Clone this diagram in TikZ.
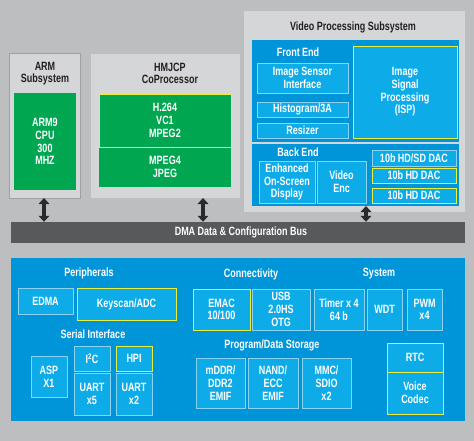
\documentclass[tikz,border=0pt]{standalone}
\usepackage{fontspec}
\setmainfont{Liberation Sans}[FakeStretch=0.75]
\usetikzlibrary{arrows.meta}
\definecolor{bgc}{HTML}{BDBEC0}
\definecolor{lbox}{HTML}{D5D6D8}
\definecolor{armb}{HTML}{A0A1A3}
\definecolor{grn}{HTML}{00A650}
\definecolor{bpan}{HTML}{0095D9}
\definecolor{iblue}{HTML}{0DACE8}
\definecolor{ibord}{HTML}{8AD3F2}
\definecolor{yel}{HTML}{E9EE3F}
\definecolor{busc}{HTML}{58595B}
\definecolor{arrc}{HTML}{2A2A2A}
\definecolor{dtext}{HTML}{231F20}
\newcommand\bx[7]{\node[#1, minimum width={#5-#3}, minimum height={#6-#4}] (#2) at ({(#3+#5)/2},{(#4+#6)/2}) {#7};}
\tikzset{
  txt/.style={font=\fontsize{12}{12.7}\selectfont\bfseries, align=center, inner sep=0pt},
  wlbl/.style={txt, text=white},
  dlbl/.style={txt, text=dtext},
  subbox/.style={fill=lbox, inner sep=0pt},
  armbox/.style={subbox, draw=armb, line width=0.8pt},
  panel/.style={fill=bpan, inner sep=0pt},
  gbox/.style={txt, fill=grn, text=white},
  gybox/.style={gbox, draw=yel, line width=0.9pt},
  ibox/.style={txt, fill=iblue, draw=ibord, line width=0.7pt, text=white},
  ybox/.style={ibox, draw=yel, line width=0.9pt},
  busbox/.style={txt, fill=busc, text=white},
  dbl/.style={draw=arrc, line width=3.6pt, {Triangle[length=6pt,width=10.5pt]}-{Triangle[length=6pt,width=10.5pt]}},
}
\begin{document}
\begin{tikzpicture}[x=1pt,y=-1pt]
\fill[bgc] (0,0) rectangle (474,441);
\useasboundingbox (0,0) rectangle (474,441);
% ARM
\bx{armbox}{arm}{9.5}{53}{80}{198}{}
\node[dlbl] (armt) at (45,73.5) {ARM\\Subsystem};
\bx{gbox}{cpu}{14}{93}{76}{190}{ARM9\\CPU\\300\\MHZ}
% HMJCP
\bx{subbox}{hm}{91}{54}{240}{198}{}
\node[dlbl] (hmt) at (170,73.5) {HMJCP\\CoProcessor};
\bx{gbox}{mp4}{99}{147}{231}{187}{MPEG4\\JPEG}
\bx{gybox}{h264}{99}{94}{231}{147}{H.264\\VC1\\MPEG2}
% Video processing subsystem
\bx{subbox}{vps}{244}{11}{465}{212}{}
\node[dlbl] (vpst) at (353,27) {Video Processing Subsystem};
\bx{panel}{fe}{252}{40}{459}{142}{}
\node[wlbl] (fet) at (298,52) {Front End};
\bx{ibox}{isi}{257}{63}{348}{93}{Image Sensor\\Interface}
\bx{ibox}{hist}{257}{102}{348}{117}{Histogram/3A}
\bx{ibox}{rsz}{257}{123}{348}{138}{Resizer}
\bx{ybox}{isp}{353}{46}{457}{138}{Image\\Signal\\Processing\\(ISP)}
\bx{panel}{be}{252}{144}{459}{206}{}
\node[wlbl] (bet) at (298,152) {Back End};
\bx{ibox}{osd}{259}{161}{315}{203}{Enhanced\\On-Screen\\Display}
\bx{ibox}{venc}{317}{161}{366}{203}{Video\\Enc}
\bx{ibox}{dac1}{372}{150}{456}{166}{10b HD/SD DAC}
\bx{ybox}{dac2}{372}{168}{456}{183}{10b HD DAC}
\bx{ybox}{dac3}{372}{188}{456}{203}{10b HD DAC}
% Bus
\bx{busbox}{bus}{11}{222}{465}{243}{}
\node[wlbl] (bust) at (241,232.5) {DMA Data \& Configuration Bus};
\draw[dbl] (44,198) coordinate (a1) -- (a1 |- bus.north);
\draw[dbl] (203,198) coordinate (a2) -- (a2 |- bus.north);
\draw[dbl] (366,206) coordinate (a3) -- (a3 |- bus.north);
% Lower panel
\bx{panel}{low}{11}{258}{465}{421}{}
\node[wlbl] (perit) at (89,273) {Peripherals};
\bx{ibox}{edma}{18}{288}{73}{314}{EDMA}
\bx{ybox}{key}{77}{288}{176}{320}{Keyscan/ADC}
\node[wlbl] (sert) at (93,334) {Serial Interface};
\bx{ibox}{asp}{31}{356}{67}{397}{ASP\\X1}
\bx{ibox}{i2c}{74}{346}{110}{371}{I\textsuperscript{2}C}
\bx{ibox}{u5}{74}{373}{110}{415}{UART\\x5}
\bx{ybox}{hpi}{116}{346}{152}{371}{HPI}
\bx{ibox}{u2}{116}{373}{152}{415}{UART\\x2}
\node[wlbl] (cont) at (251,274) {Connectivity};
\bx{ybox}{emac}{193}{289}{250}{330}{EMAC\\10/100}
\bx{ibox}{usb}{252}{289}{310}{330}{USB\\2.0HS\\OTG}
\node[wlbl] (syst) at (379,274) {System};
\bx{ibox}{tmr}{314}{289}{364}{330}{Timer x 4\\64 b}
\bx{ibox}{wdt}{367}{289}{402}{330}{WDT}
\bx{ibox}{pwm}{407}{289}{442}{330}{PWM\\x4}
\node[wlbl] (pdst) at (272,345) {Program/Data Storage};
\bx{ibox}{ddr}{196}{358}{245}{408}{mDDR/\\DDR2\\EMIF}
\bx{ibox}{nand}{248}{358}{298}{408}{NAND/\\ECC\\EMIF}
\bx{ibox}{mmc}{302}{358}{351}{408}{MMC/\\SDIO\\x2}
\bx{ybox}{rtc}{387}{343}{443}{372}{RTC}
\bx{ybox}{voice}{387}{372}{443}{414}{Voice\\Codec}
\end{tikzpicture}
\end{document}
